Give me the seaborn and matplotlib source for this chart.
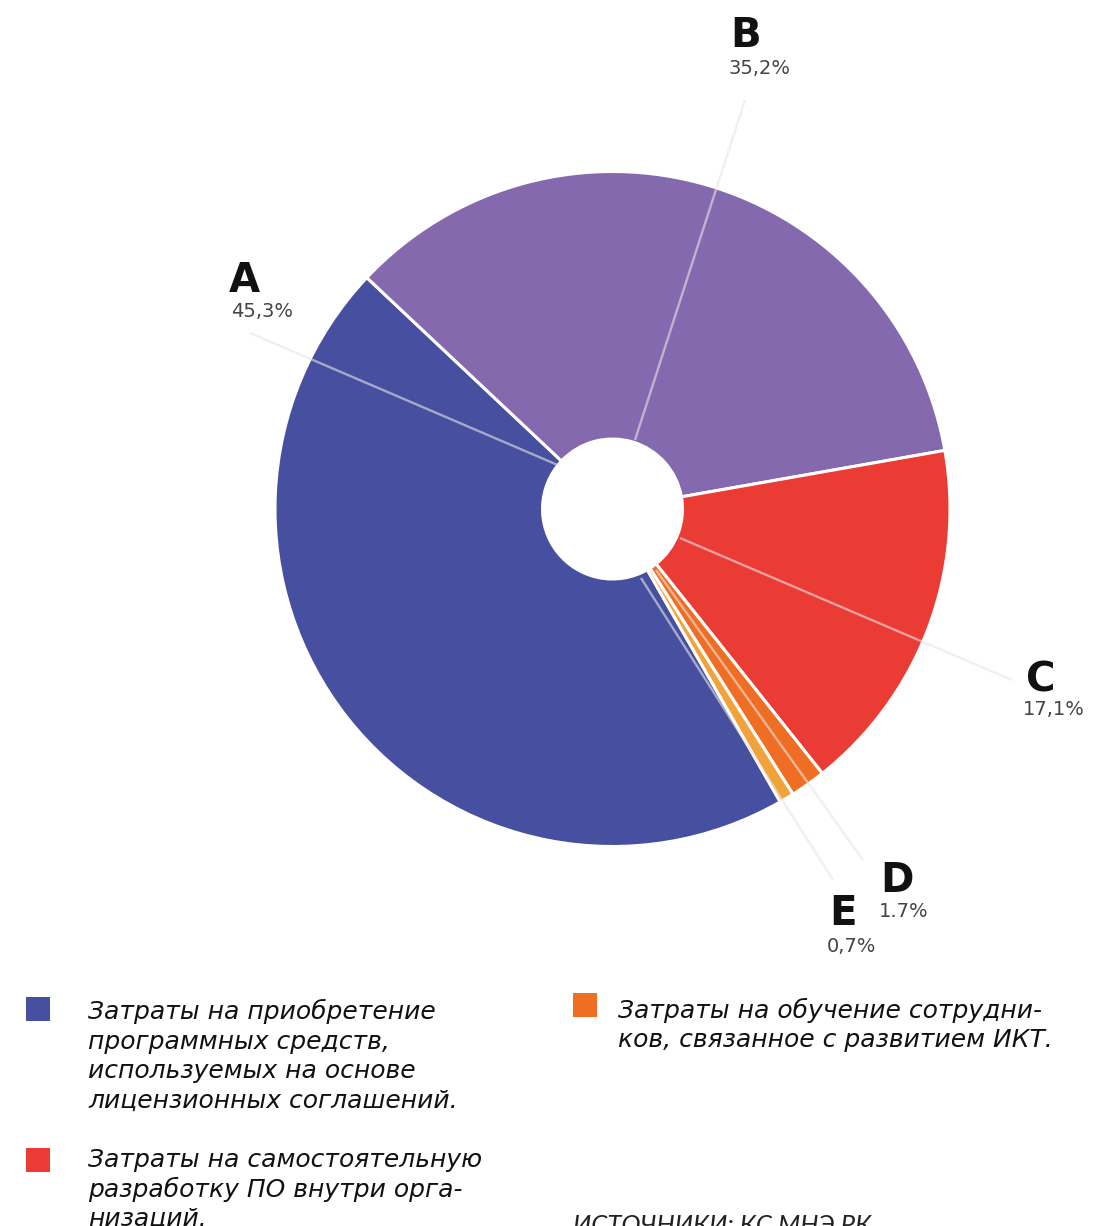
import matplotlib
matplotlib.use("Agg")
import matplotlib.pyplot as plt
import matplotlib.patches as mpatches
import seaborn as sns

# ---- data ----
categories = ["A", "B", "C", "D", "E"]
shares = [45.3, 35.2, 17.1, 1.7, 0.7]
share_labels = ["45,3%", "35,2%", "17,1%", "1.7%", "0,7%"]
slice_colors = ["#4750A0", "#8469AF", "#EA3B34", "#F06E23", "#F2A23A"]
legend_texts = [
    "Затраты на приобретение\nпрограммных средств,\nиспользуемых на основе\nлицензионных соглашений.",
    "Затраты на самостоятельную\nразработку ПО внутри орга-\nнизаций.",
    "Затраты на обучение сотрудни-\nков, связанное с развитием ИКТ.",
]
legend_colors = ["#4750A0", "#EA3B34", "#F06E23"]
source_text = "ИСТОЧНИКИ: КС МНЭ РК"

sns.set_theme(style="white")
plt.rcParams["font.family"] = ["DejaVu Sans"]

W, H = 1102, 1226
fig = plt.figure(figsize=(W / 100, H / 100), dpi=100)
ax = fig.add_axes([0, 0, 1, 1])

def Y(y):
    return H - y

cx, cy = 612.5, Y(509)
R, r_hole = 337.5, 70

ax.pie(shares, colors=slice_colors, startangle=299.8, counterclock=False,
       radius=R, center=(cx, cy),
       wedgeprops=dict(width=R - r_hole, edgecolor="white", linewidth=2.2))
ax.set_xlim(0, W)
ax.set_ylim(0, H)
ax.set_aspect("auto")
ax.axis("off")

# leader lines (image coordinates)
leaders = {
    "A": ((250, 333), (560, 466)),
    "B": ((745, 100), (635, 440)),
    "C": ((1012, 680), (680, 538)),
    "D": ((863, 860), (656, 570)),
    "E": ((833, 880), (641, 578)),
}
for k, ((x1, y1), (x2, y2)) in leaders.items():
    ax.plot([x1, x2], [Y(y1), Y(y2)], color="#e6e6e6", alpha=0.6, lw=1.7,
            zorder=5, solid_capstyle="butt")

# labels: letter (left x, baseline y), pct (left x, baseline y)
label_pos = {
    "A": ((229, 292), (231, 317)),
    "B": ((730, 47), (728, 74)),
    "C": ((1026, 692), (1023, 715)),
    "D": ((880, 892), (879, 917)),
    "E": ((829, 925), (827, 952)),
}
for cat, pct in zip(categories, share_labels):
    (lx, ly), (px, py) = label_pos[cat]
    ax.text(lx, Y(ly), cat, fontsize=29, fontweight="bold", color="#111111",
            ha="left", va="baseline", zorder=6)
    ax.text(px, Y(py), pct, fontsize=14, color="#454545",
            ha="left", va="baseline", zorder=6)

# legend
leg_items = [
    ((26, 997), (88, 1019)),
    ((26, 1148), (88, 1167)),
    ((573, 993), (618, 1018)),
]
for txt, col, ((sx, sy), (tx, ty)) in zip(legend_texts, legend_colors, leg_items):
    ax.add_patch(mpatches.Rectangle((sx, Y(sy + 24)), 24, 24, color=col, lw=0))
    for i, line in enumerate(txt.split("\n")):
        ax.text(tx, Y(ty + i * 29.5), line, fontsize=18, style="italic",
                color="#111111", ha="left", va="baseline")

ax.text(573, Y(1233), source_text, fontsize=18.5, style="italic",
        family=["Lato", "DejaVu Sans"], fontweight="normal",
        color="#222222", ha="left", va="baseline")

fig.savefig("out.png", dpi=100, facecolor="white")
